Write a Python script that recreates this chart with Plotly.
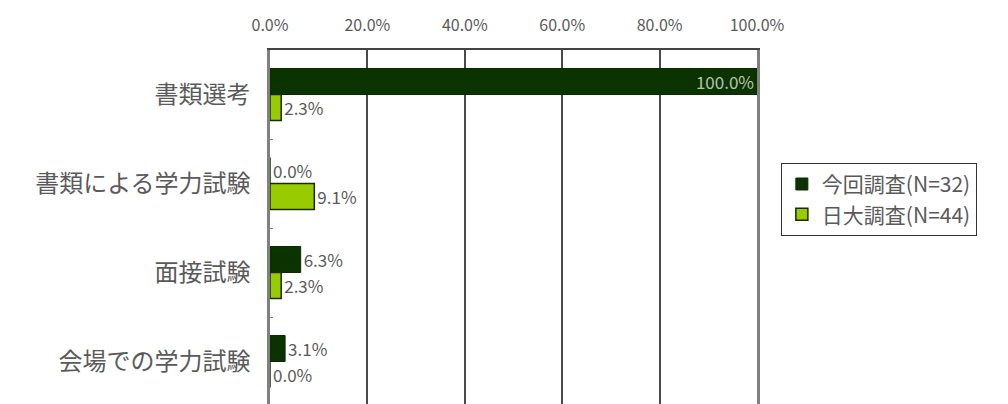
import plotly.graph_objects as go

categories = ["書類選考", "書類による学力試験", "面接試験", "会場での学力試験"]
series_names = ["今回調査(N=32)", "日大調査(N=44)"]
konkai = [100.0, 0.0, 6.3, 3.1]
nichidai = [2.3, 9.1, 2.3, 0.0]
ticks = [0, 20, 40, 60, 80, 100]

FONT = "Noto Sans CJK JP"
GREY = "#5a5a5a"

fig = go.Figure()
fig.add_trace(go.Bar(
    y=categories, x=konkai, name=series_names[0], orientation="h",
    marker=dict(color="#0b3300", line=dict(color="#0b2a00", width=1)),
    text=[f"{v:.1f}%" for v in konkai],
    textposition=["inside" if v >= 50 else "outside" for v in konkai],
    insidetextanchor="end", constraintext="none",
    insidetextfont=dict(color="#b8c4b0", size=17, family=FONT),
    outsidetextfont=dict(color=GREY, size=17, family=FONT),
    cliponaxis=False,
))
fig.add_trace(go.Bar(
    y=categories, x=nichidai, name=series_names[1], orientation="h",
    marker=dict(color="#99cc00", line=dict(color="#1a2a00", width=1.5)),
    text=[f"{v:.1f}%" for v in nichidai],
    textposition="outside", constraintext="none",
    outsidetextfont=dict(color=GREY, size=17, family=FONT),
    cliponaxis=False,
))

# the page body has an 8px margin, so the margins are shifted by 8px
fig.update_layout(
    width=1008, height=404,
    margin=dict(l=262, r=259, t=42, b=6, autoexpand=False),
    paper_bgcolor="white", plot_bgcolor="white",
    barmode="group", bargap=0.415, bargroupgap=0,
    font=dict(family=FONT, size=20, color=GREY),
    legend=dict(
        x=1.049, y=0.683, xanchor="left", yanchor="top",
        bordercolor="#333333", borderwidth=1,
        font=dict(size=21, color=GREY, family=FONT),
        tracegroupgap=0, itemwidth=30,
    ),
    xaxis=dict(
        side="top", range=[0, 100], tickvals=ticks,
        ticktext=[f"{t:.1f}%" for t in ticks],
        showgrid=True, gridcolor="#4a4a4a", gridwidth=1.5,
        showline=True, linecolor="#444444", linewidth=1.5, mirror=True,
        zeroline=False, ticks="", ticklabelstandoff=11,
        tickfont=dict(size=16, color=GREY),
    ),
    yaxis=dict(
        autorange="reversed", showline=True, linecolor="#808080",
        linewidth=2.5, mirror=True,
        ticks="inside", tickson="boundaries", ticklen=3, tickcolor="#808080",
        ticklabelstandoff=12, tickfont=dict(size=24, color=GREY),
    ),
)

fig.write_html("out.html")
